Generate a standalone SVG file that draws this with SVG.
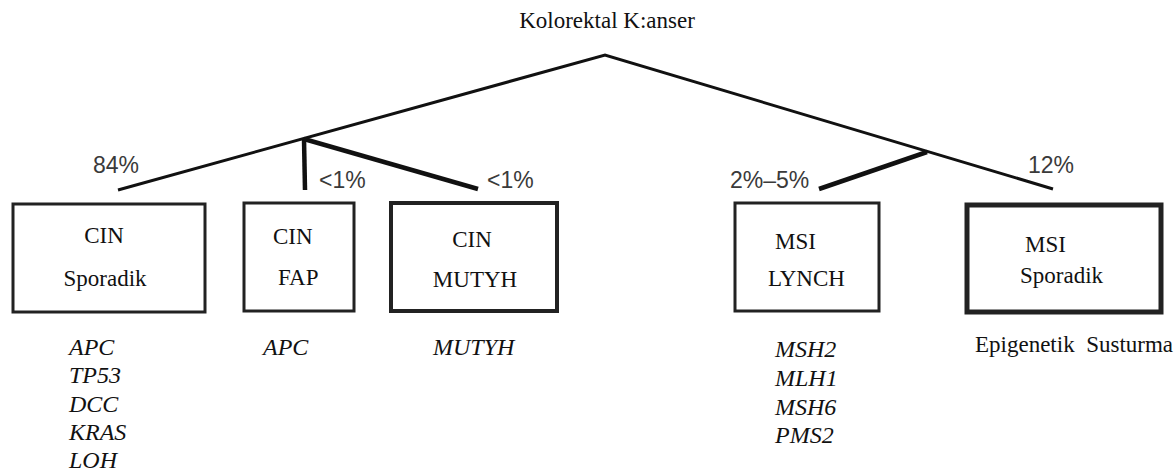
<svg xmlns="http://www.w3.org/2000/svg" width="1176" height="476" viewBox="0 0 1176 476">
<style>
.bg{fill:#fff}
.box{fill:#fff;stroke:#222;stroke-width:3}
.t{font-family:"Liberation Serif","Times New Roman",serif;font-size:23px;fill:#111}
.g{font-family:"Liberation Serif","Times New Roman",serif;font-size:24px;font-style:italic;fill:#111}
.p{font-family:"Liberation Sans",Arial,sans-serif;font-size:23px;fill:#3a3a3a}
.ln{stroke:#111;stroke-width:3;fill:none;stroke-linecap:butt}
.lt{stroke:#111;stroke-width:4.5;fill:none}
</style>
<rect class="bg" x="0" y="0" width="1176" height="476"/>
<text class="t" x="607" y="28" text-anchor="middle">Kolorektal K:anser</text>
<g id="connectors">
<polyline class="ln" points="118,190 605,55 1053,189"/>
<line class="lt" x1="304" y1="139" x2="305" y2="190"/>
<line class="lt" x1="304" y1="139" x2="478" y2="189"/>
<line class="lt" x1="927" y1="152" x2="819" y2="189"/>
<text class="p" x="93" y="173">84%</text>
<text class="p" x="319" y="188">&lt;1%</text>
<text class="p" x="487" y="188">&lt;1%</text>
<text class="p" x="730" y="188">2%–5%</text>
<text class="p" x="1028" y="173">12%</text>
</g>
<g id="cin-sporadik">
<rect class="box" x="13" y="204" width="192" height="108"/>
<text class="t" x="104" y="243" text-anchor="middle">CIN</text>
<text class="t" x="105" y="286" text-anchor="middle">Sporadik</text>
<text class="g" x="69" y="355">APC</text>
<text class="g" x="69" y="383">TP53</text>
<text class="g" x="69" y="412">DCC</text>
<text class="g" x="69" y="440">KRAS</text>
<text class="g" x="69" y="468">LOH</text>
</g>
<g id="cin-fap">
<rect class="box" x="244" y="203" width="110" height="108"/>
<text class="t" x="273" y="244">CIN</text>
<text class="t" x="278" y="285">FAP</text>
<text class="g" x="263" y="355">APC</text>
</g>
<g id="cin-mutyh">
<rect class="box" x="391" y="203" width="166" height="108" style="stroke-width:4"/>
<text class="t" x="472" y="247" text-anchor="middle">CIN</text>
<text class="t" x="475" y="287" text-anchor="middle">MUTYH</text>
<text class="g" x="433" y="355">MUTYH</text>
</g>
<g id="msi-lynch">
<rect class="box" x="735" y="203" width="144" height="108"/>
<text class="t" x="775" y="249">MSI</text>
<text class="t" x="768" y="286">LYNCH</text>
<text class="g" x="775" y="357">MSH2</text>
<text class="g" x="775" y="386">MLH1</text>
<text class="g" x="775" y="415">MSH6</text>
<text class="g" x="775" y="443">PMS2</text>
</g>
<g id="msi-sporadik">
<rect class="box" x="967" y="205" width="194" height="107" style="stroke-width:5"/>
<text class="t" x="1025" y="252">MSI</text>
<text class="t" x="1020" y="283">Sporadik</text>
<text class="t" x="975" y="352" xml:space="preserve">Epigenetik  Susturma</text>
</g>
</svg>
